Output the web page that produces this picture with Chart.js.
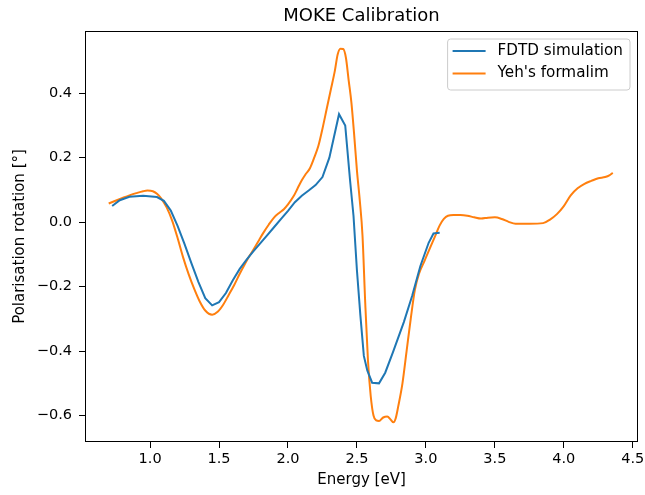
<!DOCTYPE html>
<html>
<head>
<meta charset="utf-8">
<script src="https://cdn.jsdelivr.net/npm/chart.js@4"></script>
<style>
  body { margin: 0; background: #fff; }
</style>
</head>
<body>
<canvas id="canva" width="645" height="495"></canvas>
<script>
// FDTD simulation (eV, degrees)
const fdtdX = [0.725, 0.78, 0.85, 0.95, 1.05, 1.10, 1.15, 1.20, 1.25, 1.30, 1.35, 1.40, 1.45, 1.50, 1.55, 1.60,
  1.65, 1.70, 1.75, 1.80, 1.85, 1.90, 1.95, 2.00, 2.05, 2.10, 2.15, 2.20, 2.25, 2.30, 2.37, 2.415,
  2.45, 2.475, 2.50, 2.525, 2.55, 2.575, 2.61, 2.66, 2.705, 2.76, 2.84, 2.90, 2.96, 3.02, 3.055, 3.10];
const fdtdY = [0.050, 0.068, 0.079, 0.082, 0.078, 0.066, 0.036, -0.012, -0.068, -0.128, -0.185, -0.236, -0.258, -0.248, -0.220, -0.180,
  -0.145, -0.116, -0.090, -0.065, -0.040, -0.015, 0.010, 0.035, 0.062, 0.082, 0.098, 0.115, 0.140, 0.200, 0.335, 0.300,
  0.130, 0.020, -0.150, -0.290, -0.415, -0.460, -0.498, -0.500, -0.467, -0.405, -0.310, -0.229, -0.136, -0.064, -0.035, -0.033];

// Yeh's formalism
const yehX = [0.70, 0.74, 0.80, 0.85, 0.90, 0.95, 0.98, 1.02, 1.05, 1.08, 1.12, 1.16, 1.20, 1.24, 1.28, 1.32,
  1.36, 1.40, 1.45, 1.49, 1.53, 1.57, 1.61, 1.65, 1.68, 1.72, 1.75, 1.79, 1.82, 1.86, 1.90, 1.94,
  1.97, 2.00, 2.04, 2.07, 2.10, 2.13, 2.16, 2.19, 2.22, 2.25, 2.28, 2.31, 2.34, 2.36, 2.38, 2.40,
  2.42, 2.44, 2.46, 2.48, 2.50, 2.52, 2.54, 2.56, 2.58, 2.60, 2.62, 2.64, 2.66, 2.69, 2.72, 2.745,
  2.765, 2.78, 2.80, 2.83, 2.86, 2.89, 2.92, 2.95, 2.99, 3.03, 3.07, 3.10, 3.13, 3.16, 3.20, 3.25,
  3.30, 3.35, 3.40, 3.45, 3.50, 3.55, 3.60, 3.65, 3.75, 3.85, 3.90, 3.95, 4.00, 4.05, 4.10, 4.15,
  4.20, 4.25, 4.30, 4.33, 4.355];
const yehY = [0.058, 0.065, 0.075, 0.083, 0.090, 0.096, 0.098, 0.096, 0.088, 0.074, 0.046, 0.005, -0.050, -0.110, -0.162, -0.207,
  -0.246, -0.274, -0.287, -0.278, -0.256, -0.226, -0.195, -0.160, -0.136, -0.105, -0.085, -0.056, -0.034, -0.008, 0.015, 0.030,
  0.040, 0.055, 0.080, 0.105, 0.130, 0.150, 0.168, 0.200, 0.236, 0.290, 0.350, 0.410, 0.470, 0.520, 0.538, 0.537,
  0.510, 0.440, 0.370, 0.270, 0.160, 0.070, -0.040, -0.250, -0.430, -0.540, -0.600, -0.615, -0.617, -0.606, -0.603, -0.613,
  -0.621, -0.610, -0.570, -0.500, -0.400, -0.300, -0.210, -0.160, -0.120, -0.080, -0.040, -0.010, 0.010, 0.020, 0.022, 0.022,
  0.020, 0.015, 0.011, 0.014, 0.015, 0.010, 0.001, -0.005, -0.005, -0.003, 0.008, 0.025, 0.050, 0.083, 0.105, 0.119,
  0.128, 0.136, 0.140, 0.145, 0.153];

const xTicks = [1.0, 1.5, 2.0, 2.5, 3.0, 3.5, 4.0, 4.5];
const yTicks = [-0.6, -0.4, -0.2, 0.0, 0.2, 0.4];

const FONT = 'DejaVu Sans';
const fmt = v => (v < 0 ? '\u2212' : '') + Math.abs(v).toFixed(1);
const pts = (xs, ys) => xs.map((x, i) => ({x: x, y: ys[i]}));

// frame, title and legend drawn matplotlib-like
const decor = {
  id: 'decor',
  afterDatasetsDraw(chart) {
    const ctx = chart.ctx;
    const a = chart.chartArea;
    ctx.save();
    ctx.strokeStyle = '#000';
    ctx.lineWidth = 1;
    ctx.strokeRect(a.left + 0.5, a.top + 0.5, a.right - a.left - 1, a.bottom - a.top - 1);

    ctx.fillStyle = '#000';
    ctx.font = '18px "' + FONT + '"';
    ctx.textAlign = 'center';
    ctx.textBaseline = 'alphabetic';
    ctx.fillText('MOKE Calibration', (a.left + a.right) / 2, 21);

    // legend
    ctx.font = '15.2px "' + FONT + '"';
    const ds = chart.data.datasets;
    let tw = 0;
    ds.forEach(d => { tw = Math.max(tw, ctx.measureText(d.label).width); });
    const w = 5 + 33 + 12 + tw + 7, h = 51;
    const bx = a.right - 8 - w, by = a.top + 8, r = 3;
    ctx.beginPath();
    ctx.moveTo(bx + r, by);
    ctx.arcTo(bx + w, by, bx + w, by + h, r);
    ctx.arcTo(bx + w, by + h, bx, by + h, r);
    ctx.arcTo(bx, by + h, bx, by, r);
    ctx.arcTo(bx, by, bx + w, by, r);
    ctx.closePath();
    ctx.fillStyle = 'rgba(255,255,255,0.8)';
    ctx.fill();
    ctx.strokeStyle = '#cccccc';
    ctx.stroke();
    ds.forEach((d, i) => {
      const yy = by + 12 + i * 22.5;
      ctx.strokeStyle = d.borderColor;
      ctx.lineWidth = 2;
      ctx.beginPath();
      ctx.moveTo(bx + 5, yy);
      ctx.lineTo(bx + 38, yy);
      ctx.stroke();
      ctx.fillStyle = '#000';
      ctx.textAlign = 'left';
      ctx.textBaseline = 'middle';
      ctx.fillText(d.label, bx + 50, yy);
    });
    ctx.restore();
  }
};

Chart.defaults.font.family = FONT;
Chart.defaults.color = '#000';

new Chart(document.getElementById('canva'), {
  type: 'scatter',
  data: {
    datasets: [{
      label: 'FDTD simulation',
      data: pts(fdtdX, fdtdY),
      showLine: true,
      borderColor: '#1f77b4',
      backgroundColor: '#1f77b4',
      borderWidth: 2,
      pointRadius: 0,
      tension: 0
    }, {
      label: "Yeh's formalim",
      data: pts(yehX, yehY),
      showLine: true,
      borderColor: '#ff7f0e',
      backgroundColor: '#ff7f0e',
      borderWidth: 2,
      pointRadius: 0,
      cubicInterpolationMode: 'monotone'
    }]
  },
  options: {
    responsive: false,
    animation: false,
    layout: { padding: { top: 31, right: 7, left: 0, bottom: 0 } },
    plugins: {
      legend: { display: false },
      title: { display: false },
      tooltip: { enabled: false }
    },
    scales: {
      x: {
        type: 'linear',
        min: 0.528,
        max: 4.538,
        afterBuildTicks: s => { s.ticks = xTicks.map(v => ({value: v})); },
        afterFit: s => { s.height = 53; s.paddingLeft = 0; s.paddingRight = 0; },
        ticks: { callback: fmt, padding: 3, maxRotation: 0, font: { size: 14.5 }, color: '#000' },
        grid: { drawOnChartArea: false, drawTicks: true, tickLength: 6, tickColor: '#000' },
        border: { display: false },
        title: { display: true, text: 'Energy [eV]', font: { size: 15 }, color: '#000', padding: { top: 0, bottom: 6 } }
      },
      y: {
        type: 'linear',
        min: -0.682,
        max: 0.593,
        afterBuildTicks: s => { s.ticks = yTicks.map(v => ({value: v})); },
        afterFit: s => { s.width = 85; s.paddingTop = 0; s.paddingBottom = 0; },
        ticks: { callback: fmt, padding: 7, font: { size: 14.5 }, color: '#000' },
        grid: { drawOnChartArea: false, drawTicks: true, tickLength: 6, tickColor: '#000' },
        border: { display: false },
        title: { display: true, text: 'Polarisation rotation [°]', font: { size: 15 }, color: '#000', padding: { top: 11, bottom: 0 } }
      }
    }
  },
  plugins: [decor]
});
</script>
</body>
</html>
